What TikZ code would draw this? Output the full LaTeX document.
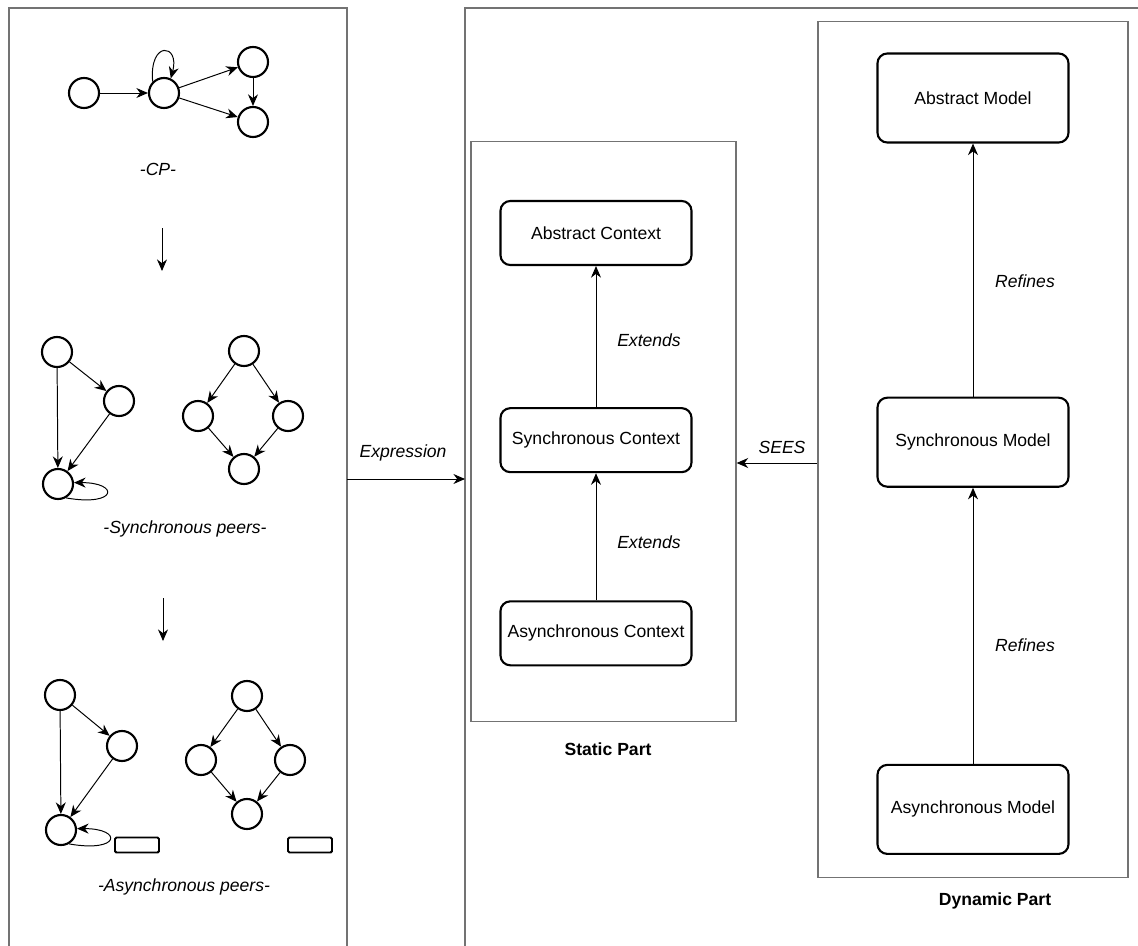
\documentclass[tikz,border=0pt]{standalone}
\usepackage{fontspec}
\setmainfont{Liberation Sans}
\usepackage{xcolor}
\usetikzlibrary{positioning, arrows.meta}

\definecolor{panelgray}{RGB}{115,115,115}
\newcommand{\diagfont}{\fontsize{12.5}{15}\selectfont}

\begin{document}
\begin{tikzpicture}[
        x=0.025cm, y=0.025cm,
        peer/.style={draw, circle, line width=1.5pt, minimum size=0.75cm, inner sep=0pt},
        buf/.style={draw, rounded corners=1pt, line width=1.4pt, minimum width=1.1cm, minimum height=0.375cm, inner sep=0pt},
        model/.style={draw, rounded corners=7pt, line width=1.5pt, minimum width=4.775cm, minimum height=#1, font=\diagfont, align=center},
        model/.default=1.6cm,
        part/.style={draw=panelgray, line width=0.8pt, inner sep=0pt},
        panel/.style={draw=panelgray, line width=0.8pt},
        lbl/.style={font=\diagfont\itshape},
        title/.style={font=\diagfont\bfseries},
        arr/.style={-{Stealth[length=2.9mm, width=2.5mm]}, line width=0.7pt},
    ]
    \useasboundingbox (0,0) rectangle (1138,-946);

    % Outer panels
    \draw[panel] (9,-946) -- (9,-8) -- (347,-8) -- (347,-946);
    \draw[panel] (465,-946) -- (465,-8) -- (1138,-8);

    % CP graph
    \node[peer] (cpa) at (84,-93) {};
    \node[peer] (cpb) at (164,-93) {};
    \node[peer] (cpc) at (253,-62) {};
    \node[peer] (cpd) at (253,-122) {};
    \draw[arr] (cpa) -- (cpb);
    \draw[arr] (cpb) -- (cpc);
    \draw[arr] (cpb) -- (cpd);
    \draw[arr] (cpc) -- (cpd);
    \draw[arr] (cpb.135) .. controls +(95:42) and +(75:36) .. (cpb.65);
    \node[lbl] at (158,-169) {-CP-};

    \coordinate (down1a) at (162,-228);
    \coordinate (down1b) at (162,-271);
    \draw[arr] (down1a) -- (down1b);

    % Synchronous peers
    \node[peer] (spa) at (57,-352) {};
    \node[peer] (spb) at (119,-401) {};
    \node[peer] (spc) at (58,-484) {};
    \draw[arr] (spa) -- (spb);
    \draw[arr] (spa) -- (spc);
    \draw[arr] (spb) -- (spc);
    \draw[arr] (spc.-60) .. controls +(-10:52) and +(0:46) .. (spc.5);
    \node[peer] (spd) at (244,-351) {};
    \node[peer] (spe) at (198,-416) {};
    \node[peer] (spf) at (288,-416) {};
    \node[peer] (spg) at (244,-469) {};
    \foreach \i/\j in {spd/spe, spd/spf, spe/spg, spf/spg} {
        \draw[arr] (\i) -- (\j);
    }
    \node[lbl] at (185,-529) {-Synchronous peers-};

    \coordinate (down2a) at (163,-598);
    \coordinate (down2b) at (163,-641);
    \draw[arr] (down2a) -- (down2b);

    % Asynchronous peers
    \node[peer] (apa) at (60,-695) {};
    \node[peer] (apb) at (122,-746) {};
    \node[peer] (apc) at (61,-830) {};
    \draw[arr] (apa) -- (apb);
    \draw[arr] (apa) -- (apc);
    \draw[arr] (apb) -- (apc);
    \draw[arr] (apc.-60) .. controls +(-10:52) and +(0:46) .. (apc.5);
    \node[buf] (bufa) at (137,-845) {};
    \node[peer] (apd) at (247,-696) {};
    \node[peer] (ape) at (201,-760) {};
    \node[peer] (apf) at (290,-760) {};
    \node[peer] (apg) at (247,-814) {};
    \foreach \i/\j in {apd/ape, apd/apf, ape/apg, apf/apg} {
        \draw[arr] (\i) -- (\j);
    }
    \node[buf] (bufb) at (310,-845) {};
    \node[lbl] at (184,-887) {-Asynchronous peers-};

    % Static and dynamic parts
    \node[part, minimum width=6.625cm, minimum height=14.475cm] (static) at (603.5,-431.5) {};
    \node[part, minimum width=7.75cm, minimum height=21.375cm] (dynamic) at (973,-449.5) {};

    \node[model] (absctx) at (596,-233) {Abstract Context};
    \node[model, below=3.525cm of absctx] (syncctx) {Synchronous Context};
    \node[model, below=3.175cm of syncctx] (asyncctx) {Asynchronous Context};

    \node[model=2.225cm] (absmod) at (973,-98) {Abstract Model};
    \node[model=2.225cm, below=6.325cm of absmod] (syncmod) {Synchronous Model};
    \node[model=2.225cm, below=6.9cm of syncmod] (asyncmod) {Asynchronous Model};

    \draw[arr] (asyncctx) -- (syncctx);
    \draw[arr] (syncctx) -- (absctx);
    \draw[arr] (asyncmod) -- (syncmod);
    \draw[arr] (syncmod) -- (absmod);

    \node[lbl] at (649,-340) {Extends};
    \node[lbl] at (649,-542) {Extends};
    \node[lbl] at (1025,-281) {Refines};
    \node[lbl] at (1025,-645) {Refines};

    \node[title] at (608,-749) {Static Part};
    \node[title] at (995,-901) {Dynamic Part};

    % Links between parts
    \coordinate (seesrow) at (0,-463);
    \draw[arr] (dynamic.west |- seesrow) -- (static.east |- seesrow);
    \node[lbl] at (782,-447) {SEES};

    \coordinate (exprfrom) at (347,-479);
    \coordinate (exprto) at (465,-479);
    \draw[arr] (exprfrom) -- (exprto);
    \node[lbl] at (403,-453) {Expression};

\end{tikzpicture}
\end{document}
